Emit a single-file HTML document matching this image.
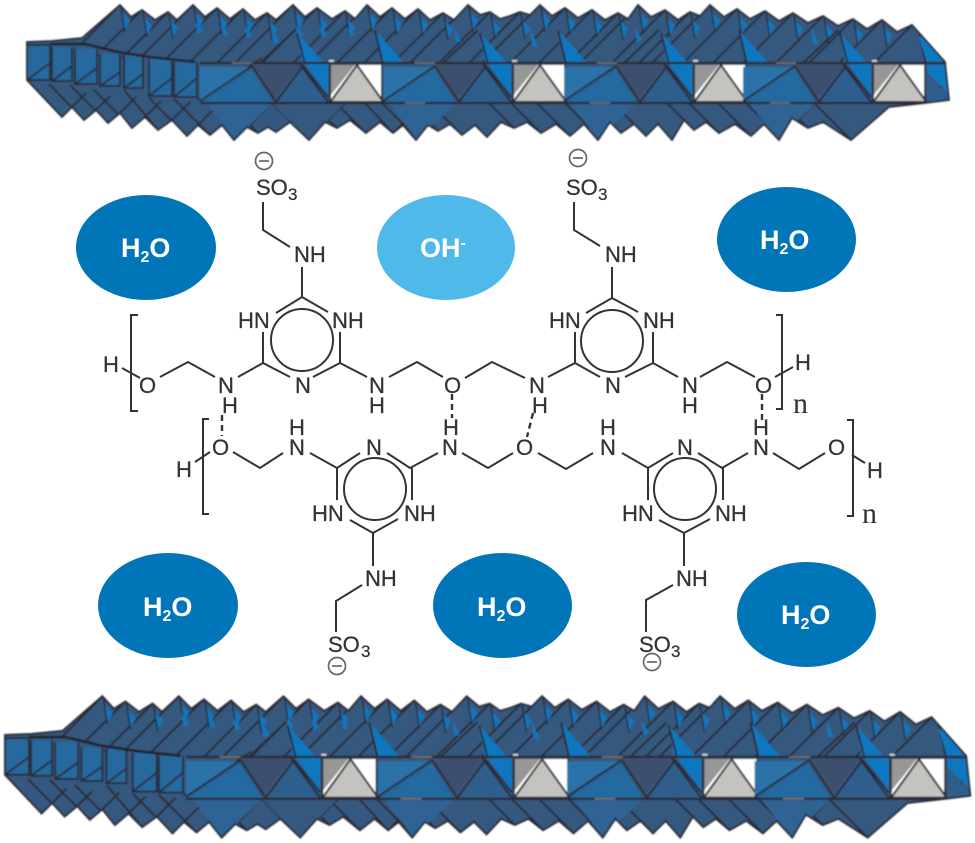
<!DOCTYPE html>
<html><head><meta charset="utf-8"><style>
html,body{margin:0;padding:0;background:#fff}
svg{display:block}
.t{font-family:"Liberation Sans",sans-serif;font-size:22px;fill:#333;stroke:#333;stroke-width:.25}
.s{font-size:17px}
.w{font-family:"Liberation Sans",sans-serif;font-size:27px;font-weight:bold;fill:#fff}
.ws{font-size:16px}
.n{font-family:"Liberation Serif",serif;font-size:30px;fill:#333}
.b{fill:none;stroke:#333;stroke-width:2}
.d{fill:none;stroke:#333;stroke-width:2.4;stroke-dasharray:6 4}
.c{fill:none;stroke:#666;stroke-width:1.7}
</style></head><body>
<svg width="975" height="843" viewBox="0 0 975 843" xmlns="http://www.w3.org/2000/svg">
<defs>
<filter id="bl" x="-2%" y="-5%" width="104%" height="110%"><feGaussianBlur stdDeviation="0.7"/></filter>
<clipPath id="sil"><polygon id="silp" points="27,42 52,41 82,38 120,5 131,17 142,10 155,20 168,12 177,20 193,5 205,17 217,8 230,19 243,9 255,20 267,13 276,20 293,5 305,17 317,8 332,19 345,11 355,19 367,5 380,17 392,8 405,19 418,9 430,20 443,13 454,20 468,5 480,15 490,12 500,19 510,16 520,12 530,15 540,5 552,16 565,8 578,18 592,10 605,20 618,13 628,19 638,5 651,17 665,10 678,20 690,12 700,16 710,5 724,17 737,9 750,19 765,11 779,21 793,13 808,23 823,16 838,26 853,19 867,29 882,20 897,32 912,25 945,62 949,100 925,103 889,107 851,140 823,122 808,128 792,118 779,140 764,124 751,136 735,124 719,133 706,122 694,130 684,120 672,140 658,124 646,136 634,124 621,133 610,122 598,140 584,124 570,136 556,124 541,133 527,122 514,128 501,122 487,137 475,125 462,135 450,124 438,131 428,125 416,140 403,125 393,133 380,122 366,133 350,120 337,128 325,122 309,140 290,122 276,132 268,127 258,133 247,127 234,140 222,125 210,135 198,125 187,136 172,120 158,130 145,117 132,128 120,113 108,123 96,110 84,120 72,107 62,117 27,80"/></clipPath>
<g id="p">
<path d="M0 0L5 22L9 14Z" fill="none"/>
<polygon points="2,8 10,16 5,25" fill="#0b78c0"/>
<path d="M1 2L5 27" fill="none" stroke="#2a2c36" stroke-width="1.4"/>
</g>
<g id="u">
<polygon points="-130,67 -78,67 -130,100" fill="#2a72a8"/>
<polygon points="-124,102 -79,69 -58,102" fill="#236a9f"/>
<polygon points="-130,100 -78,67 -124,102" fill="#24689f"/>
<polygon points="-78,64 -28,64 -57,100" fill="#3c506e"/>
<polygon points="-52,102 -28,68 -2,97 -2,102" fill="#2e5e8c"/>
<polygon points="-25,64 -2,64 -2,95" fill="#0b78c0"/>
<polygon points="-33,33 -7,62 -28,62" fill="#0b78c0"/>
<polygon points="45,30 73,62 53,63" fill="#0b78c0"/>
<rect x="0" y="65" width="52" height="36" fill="#fff"/>
<polygon points="0,65 25,65 0,96" fill="#979795"/>
<polygon points="2,101 27,66 52,101" fill="#c4c3c0"/>
<path d="M0 65V102H52V65M1 101L27 65L52 100" fill="none" stroke="#2a2c36" stroke-width="2"/>
<path d="M-130 101L-78 66M-78 66L-54 102L-27 66L-2 97M-70 63L-35 30M-33 33L-25 64M45 30L53 64M-30 64L-2 102M52 103L89 140M52 103L87 68" fill="none" stroke="#2a2c36" stroke-width="1.9"/>
<polygon points="-123,104 -58,104 -96,140" fill="#2d6394"/>
<rect x="-1" y="60" width="5" height="3" fill="#ddd"/>
</g>
<g id="band" filter="url(#bl)">
<use href="#silp" fill="#35587f"/>
<g clip-path="url(#sil)">
<path d="M120 5l-38 38M142 10l-40 40M168 12l-46 46M193 5l-56 56M217 8l-54 54M243 9l-54 54M267 13l-50 50M293 5l-58 58M317 8l-55 55M345 11l-52 52M367 5l-58 58M392 8l-55 55M418 9l-54 54M443 13l-50 50M468 5l-58 58M490 12l-51 51M520 12l-51 51M540 5l-58 58M565 8l-55 55M592 10l-53 53M618 13l-50 50M638 5l-58 58M665 10l-53 53M690 12l-51 51M710 5l-58 58M737 9l-54 54M765 11l-52 52M793 13l-50 50M823 16l-47 47M853 19l-44 44M882 20l-43 43M912 25l-38 38M62 117l-35 -37M84 120l-35 -36M108 123l-38 -38M132 128l-38 -38M158 130l-34 -40M187 136l-38 -38M210 135l-36 -36M258 133l-30 -30M309 140l-37 -37M337 128l-26 -25M366 133l-30 -30M393 133l-28 -30M438 131l-28 -28M462 135l-32 -32M514 128l-25 -25M541 133l-30 -30M570 136l-33 -33M621 133l-30 -30M646 136l-33 -33M694 130l-27 -27M719 133l-30 -30M751 136l-33 -33M808 128l-25 -25M851 140l-37 -37M72 107l14 -14M96 110l14 -14M120 113l16 -16M145 117l16 -16M172 120l18 -18M198 125l22 -22M222 125l22 -22M250 125l22 -22M309 140l36 -37M393 133l30 -30M416 140l37 -37M598 140l37 -37M779 140l36 -37" fill="none" stroke="#2a2c36" stroke-width="1.9"/>
<use href="#p" x="120" y="5"/><use href="#p" x="142" y="10"/><use href="#p" x="168" y="12"/><use href="#p" x="193" y="5"/><use href="#p" x="217" y="8"/><use href="#p" x="243" y="9"/><use href="#p" x="267" y="13"/><use href="#p" x="293" y="5"/><use href="#p" x="317" y="8"/><use href="#p" x="345" y="11"/><use href="#p" x="367" y="5"/><use href="#p" x="392" y="8"/><use href="#p" x="418" y="9"/><use href="#p" x="443" y="13"/><use href="#p" x="468" y="5"/><use href="#p" x="490" y="12"/><use href="#p" x="520" y="12"/><use href="#p" x="540" y="5"/><use href="#p" x="565" y="8"/><use href="#p" x="592" y="10"/><use href="#p" x="618" y="13"/><use href="#p" x="638" y="5"/><use href="#p" x="665" y="10"/><use href="#p" x="690" y="12"/><use href="#p" x="710" y="5"/><use href="#p" x="737" y="9"/><use href="#p" x="765" y="11"/><use href="#p" x="793" y="13"/><use href="#p" x="823" y="16"/><use href="#p" x="853" y="19"/><use href="#p" x="882" y="20"/>
<polygon points="195,22 203,31 198,34" fill="#0b78c0"/>
<polygon points="222,24 228,34 223,36" fill="#0b78c0"/>
<polygon points="245,26 252,36 247,38" fill="#0b78c0"/>
<polygon points="272,30 280,42 274,44" fill="#0b78c0"/>
<polygon points="296,26 303,34 298,38" fill="#0b78c0"/>
<polygon points="320,26 327,34 322,38" fill="#0b78c0"/>
<polygon points="348,28 355,34 350,38" fill="#0b78c0"/>
<polygon points="455,28 461,42 456,42" fill="#0b78c0"/>
<polygon points="480,34 486,48 481,46" fill="#0b78c0"/>
<polygon points="530,28 538,48 532,44" fill="#0b78c0"/>
<polygon points="635,28 642,40 637,42" fill="#0b78c0"/>
<polygon points="812,28 818,44 813,44" fill="#0b78c0"/>
<polygon points="272,103 345,103 309,140" fill="#35587f"/>
<rect x="27" y="45" width="23" height="35" fill="#26699f"/>
<rect x="52" y="47" width="20" height="34" fill="#26699f"/>
<rect x="75" y="49" width="22" height="35" fill="#26699f"/>
<rect x="100" y="54" width="20" height="32" fill="#26699f"/>
<rect x="124" y="55" width="19" height="33" fill="#26699f"/>
<rect x="149" y="59" width="23" height="37" fill="#26699f"/>
<rect x="174" y="62" width="23" height="35" fill="#26699f"/>
<path d="M27 42V80H50V45H27M27 80L50 63M52 47V81H72V47M52 81L72 66M75 49V84H97V49M75 84L97 68M100 54V86H120V54M100 86L120 72M124 55V88H143V55M124 88L143 74M149 59V96H172V59M149 96L172 78M174 62V97H197V62M174 97L197 78M197 100L262 58" fill="none" stroke="#2a2c36" stroke-width="1.8"/>
<path d="M50 44L85 44L118 52L150 57L195 62" fill="none" stroke="#22242c" stroke-width="2.6"/>
<use href="#u" x="330"/>
<use href="#u" x="513"/>
<use href="#u" x="694"/>
<use href="#u" x="873"/>
<polygon points="918,35 945,62 927,62" fill="#0b78c0"/>
<polygon points="927,65 947,65 948,93 927,72" fill="#0b78c0"/>
<polygon points="927,75 948,95 949,102 927,102" fill="#2e5e8c"/>
<path d="M200 63H947M200 103H949" fill="none" stroke="#2a2c36" stroke-width="2.2"/>
<path d="M232 63h20M415 63h20M597 63h20M776 63h20M405 103h20M590 103h20M770 103h20" stroke="#777" stroke-width="1.6"/>
</g>
<use href="#silp" fill="none" stroke="#2a2c36" stroke-width="1.8"/>
</g>
</defs>

<use href="#band"/>
<use href="#band" transform="translate(-23.3 691) scale(1.047)"/>

<ellipse cx="146" cy="247.5" rx="70" ry="52.5" fill="#0076b8"/>
<ellipse cx="446" cy="247.5" rx="69" ry="52.5" fill="#4fb9ea"/>
<ellipse cx="786.5" cy="239.5" rx="69.5" ry="52.5" fill="#0076b8"/>
<ellipse cx="168" cy="605.5" rx="70" ry="52.5" fill="#0076b8"/>
<ellipse cx="502.5" cy="605.5" rx="69.5" ry="52.5" fill="#0076b8"/>
<ellipse cx="806.5" cy="614.5" rx="69.5" ry="52.5" fill="#0076b8"/>

<text class="w" x="121" y="257">H<tspan class="ws" dy="5">2</tspan><tspan dy="-5">O</tspan></text>
<text class="w" x="420" y="257">OH<tspan class="ws" dy="-9">-</tspan></text>
<text class="w" x="760" y="249">H<tspan class="ws" dy="5">2</tspan><tspan dy="-5">O</tspan></text>
<text class="w" x="143" y="616">H<tspan class="ws" dy="5">2</tspan><tspan dy="-5">O</tspan></text>
<text class="w" x="477" y="616">H<tspan class="ws" dy="5">2</tspan><tspan dy="-5">O</tspan></text>
<text class="w" x="781" y="624">H<tspan class="ws" dy="5">2</tspan><tspan dy="-5">O</tspan></text>

<!-- upper chain bonds -->
<path class="b" d="M263 202V230L290 247M302 267V297M276 313L302 297L328 312M263 332V363M340 332V363M263 363L290 377M340 363L313 377M263 363L238 377M215 377L188 362L160 377M140 378L122 368M340 363L367 377M389 377L417 362L443 377M465 378L492 362L525 378M548 377L575 363M138 315H131V411H138"/>
<circle class="b" cx="302" cy="340" r="31"/>
<path class="b" d="M574 202V230L600 246M612 267V298M586 313L612 298L638 312M575 332V363M653 332V363M575 363L600 377M653 363L625 377M653 363L678 377M700 377L727 362L755 377M775 377L793 367M776 315H782V409H776"/>
<circle class="b" cx="612" cy="341" r="31"/>
<!-- lower chain bonds -->
<path class="b" d="M195 462L210 452M233 452L260 468L283 453M310 453L337 468L360 453M387 453L410 468L438 453M337 468V500M412 468V500M350 520L373 533L398 519M373 533V566M362 585L336 601V632M209 419H203V514H209"/>
<circle class="b" cx="375" cy="489" r="31"/>
<path class="b" d="M462 453L488 468L513 453M538 453L566 469L593 453M622 453L648 468L673 453M698 453L722 468L748 453M648 468V500M723 468V500M659 520L684 533L710 519M684 533V566M673 585L646 600V632M773 453L799 469L825 453M852 455L865 463M847 420H853V516H847"/>
<circle class="b" cx="685" cy="489" r="31"/>
<!-- hydrogen bonds -->
<path class="d" d="M222 415V436M452 394V418M533 413L527 437M762 394V420"/>

<!-- minus signs -->
<circle class="c" cx="264" cy="161" r="8.5"/><path class="c" d="M259 161h10"/>
<circle class="c" cx="578" cy="158" r="8.5"/><path class="c" d="M573 158h10"/>
<circle class="c" cx="337" cy="666" r="8.5"/><path class="c" d="M332 666h10"/>
<circle class="c" cx="652" cy="662" r="8.5"/><path class="c" d="M647 662h10"/>

<!-- labels upper -->
<text class="t" x="256" y="195">SO</text><text class="t s" x="288" y="200">3</text>
<text class="t" x="294" y="262">NH</text>
<text class="t" x="238" y="328">HN</text><text class="t" x="332" y="328">NH</text>
<text class="t" x="295" y="393">N</text>
<text class="t" x="218" y="393">N</text><text class="t" x="222" y="413">H</text>
<text class="t" x="139" y="393">O</text><text class="t" x="103" y="372">H</text>
<text class="t" x="369" y="393">N</text><text class="t" x="369" y="413">H</text>
<text class="t" x="444" y="393">O</text>
<text class="t" x="529" y="393">N</text><text class="t" x="532" y="413">H</text>

<text class="t" x="566" y="195">SO</text><text class="t s" x="598" y="200">3</text>
<text class="t" x="605" y="262">NH</text>
<text class="t" x="549" y="328">HN</text><text class="t" x="643" y="328">NH</text>
<text class="t" x="605" y="393">N</text>
<text class="t" x="682" y="393">N</text><text class="t" x="682" y="413">H</text>
<text class="t" x="755" y="393">O</text>
<text class="t" x="795" y="370">H</text>
<text class="n" x="793" y="413">n</text>

<!-- labels lower -->
<text class="t" x="212" y="455">O</text><text class="t" x="176" y="477">H</text>
<text class="t" x="289" y="455">N</text><text class="t" x="289" y="435">H</text>
<text class="t" x="366" y="455">N</text>
<text class="t" x="312" y="521">HN</text><text class="t" x="404" y="521">NH</text>
<text class="t" x="365" y="586">NH</text>
<text class="t" x="328" y="652">SO</text><text class="t s" x="361" y="657">3</text>
<text class="t" x="442" y="455">N</text><text class="t" x="443" y="435">H</text>
<text class="t" x="516" y="455">O</text>
<text class="t" x="600" y="455">N</text><text class="t" x="600" y="435">H</text>
<text class="t" x="677" y="455">N</text>
<text class="t" x="622" y="521">HN</text><text class="t" x="715" y="521">NH</text>
<text class="t" x="676" y="586">NH</text>
<text class="t" x="639" y="652">SO</text><text class="t s" x="671" y="657">3</text>
<text class="t" x="753" y="455">N</text><text class="t" x="753" y="435">H</text>
<text class="t" x="828" y="455">O</text>
<text class="t" x="867" y="478">H</text>
<text class="n" x="862" y="523">n</text>
</svg>
</body></html>
